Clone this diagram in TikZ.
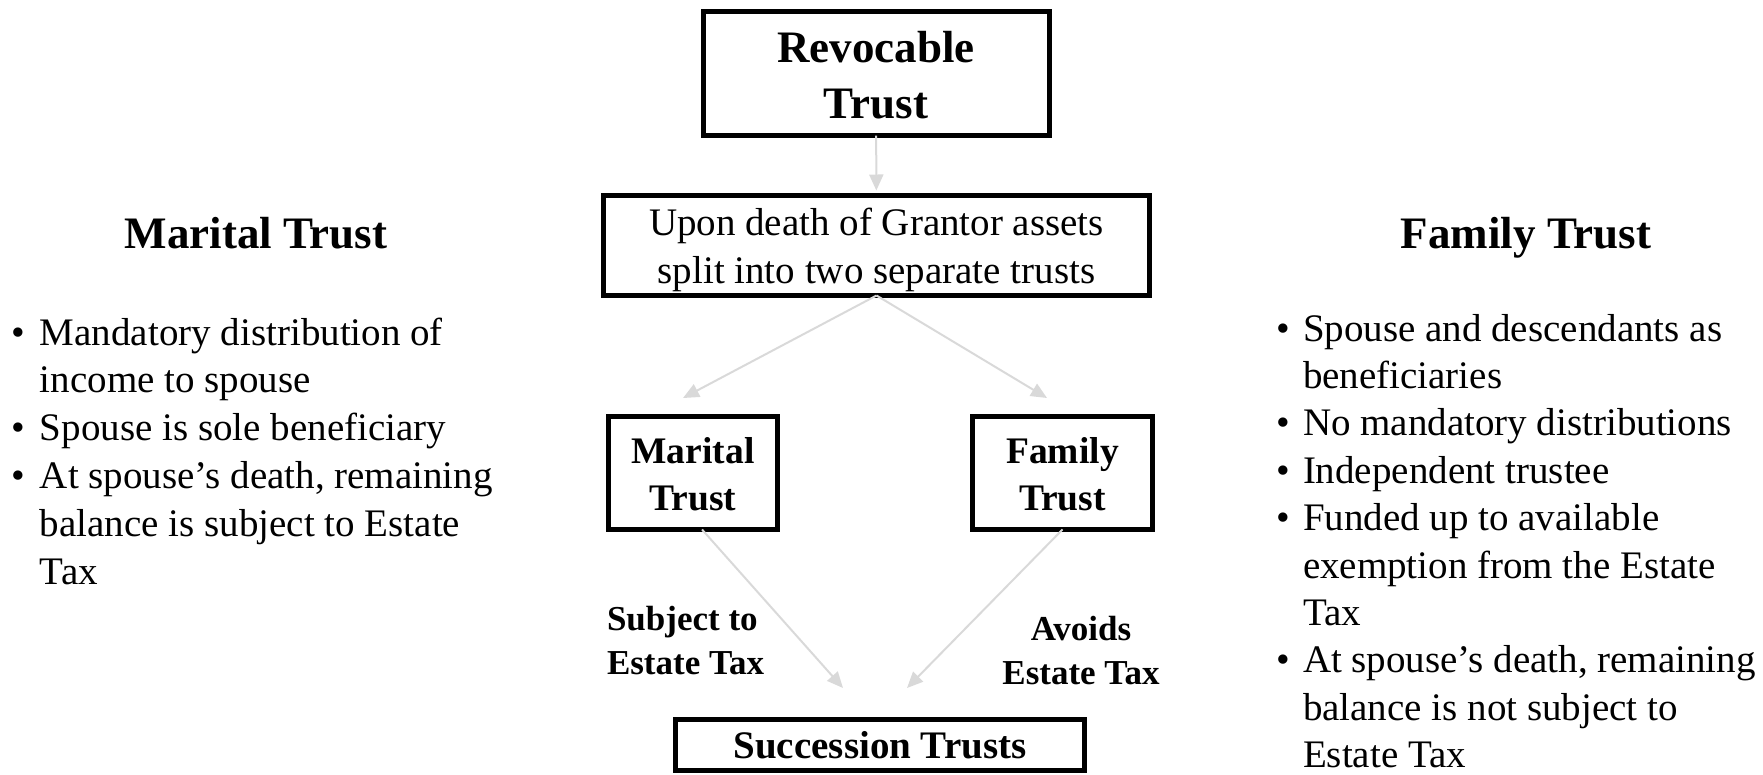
\documentclass[tikz,border=0pt]{standalone}
\usepackage{fontspec}
\setmainfont{Liberation Serif}
\usetikzlibrary{arrows.meta}
\definecolor{arrgray}{HTML}{D9D9D9}
\begin{document}
\begin{tikzpicture}[x=1pt,y=-1pt,
  box/.style={draw=black,line width=5pt,inner sep=0pt,outer sep=0pt,rectangle},
  txt/.style={inner sep=0pt,outer sep=0pt,anchor=base},
  arr/.style={draw=arrgray,line width=2pt,-{Triangle[length=16pt,width=14pt]}},
  bigbold/.style={font=\fontsize{45pt}{56pt}\selectfont\bfseries},
  midbold/.style={font=\fontsize{37.5pt}{47pt}\selectfont\bfseries},
  lblbold/.style={font=\fontsize{35pt}{44pt}\selectfont\bfseries},
  bodytext/.style={font=\fontsize{39pt}{47.8pt}\selectfont},
  ]
\useasboundingbox (0,0) rectangle (1763,774);

% boxes
\node[box,minimum width=346pt,minimum height=124pt] (rev) at (876,73.5) {};
\node[box,minimum width=546pt,minimum height=100pt] (upon) at (876.5,245.5) {};
\node[box,minimum width=169pt,minimum height=113pt] (mar) at (693,473) {};
\node[box,minimum width=180pt,minimum height=113pt] (fam) at (1062.5,473) {};
\node[box,minimum width=409pt,minimum height=51pt] (suc) at (880,745) {};

% box texts
\node[txt,bigbold] (revt) at (876,62) {\begin{tabular}[t]{@{}c@{}}Revocable\\Trust\end{tabular}};
\node[txt,font=\fontsize{39pt}{48pt}\selectfont] (upont) at (876.5,235) {\begin{tabular}[t]{@{}c@{}}Upon death of Grantor assets\\split into two separate trusts\end{tabular}};
\node[txt,midbold] (mart) at (693,463) {\begin{tabular}[t]{@{}c@{}}Marital\\Trust\end{tabular}};
\node[txt,midbold] (famt) at (1062.5,463) {\begin{tabular}[t]{@{}c@{}}Family\\Trust\end{tabular}};
\node[txt,font=\fontsize{39pt}{47pt}\selectfont\bfseries] (suct) at (880,758) {Succession Trusts};

% connector labels
\node[txt,lblbold,anchor=base west] (lbl1) at (607,630) {\begin{tabular}[t]{@{}l@{}}Subject to\\Estate Tax\end{tabular}};
\node[txt,lblbold] (lbl2) at (1081,640) {\begin{tabular}[t]{@{}c@{}}Avoids\\Estate Tax\end{tabular}};

% free ends
\coordinate (lt) at (683,398);
\coordinate (rt) at (1047,398);
\coordinate (m1) at (843,688);
\coordinate (f1) at (907,688);

% connectors
\draw[arr,shorten >=5pt] (rev) -- (upon);
\draw[arr] (upon.south) -- (lt);
\draw[arr] (upon.south) -- (rt);
\draw[arr] ([xshift=9pt]mar.south) -- (m1);
\draw[arr] (fam.south) -- (f1);

% side panels
\node[txt,bigbold] (mtitle) at (256,248) {Marital Trust};
\node[txt,bigbold] (ftitle) at (1526,248) {Family Trust};

\node[txt,bodytext,anchor=base west] (mlist) at (12,345) {\begin{tabular}[t]{@{}l@{}l@{}}
\makebox[28pt][l]{•} & Mandatory distribution of\\
 & income to spouse\\
•& Spouse is sole beneficiary\\
•& At spouse’s death, remaining\\
 & balance is subject to Estate\\
 & Tax
\end{tabular}};

\node[txt,font=\fontsize{39pt}{47.4pt}\selectfont,anchor=base west] (flist) at (1276,341) {\begin{tabular}[t]{@{}l@{}l@{}}
\makebox[27pt][l]{•} & Spouse and descendants as\\
 & beneficiaries\\
•& No mandatory distributions\\
•& Independent trustee\\
•& Funded up to available\\
 & exemption from the Estate\\
 & Tax\\
•& At spouse’s death, remaining\\
 & balance is not subject to\\
 & Estate Tax
\end{tabular}};
\end{tikzpicture}
\end{document}
